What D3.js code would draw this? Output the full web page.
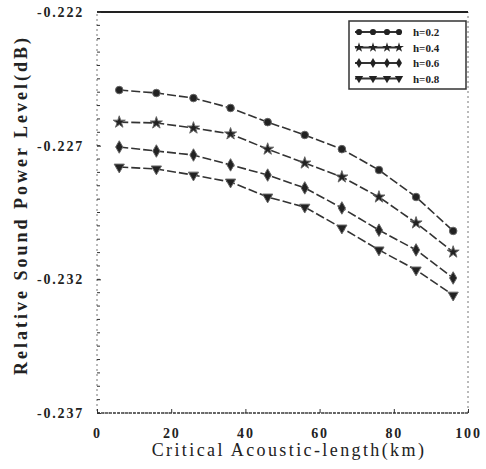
<!DOCTYPE html>
<html>
<head>
<meta charset="utf-8">
<script src="https://cdn.jsdelivr.net/npm/d3@7"></script>
<style>
  body { margin: 0; background: #fff; }
  svg { display: block; }
</style>
</head>
<body>
<div id="chart"></div>
<script>
// data
let xValues = [6, 16, 26, 36, 46, 56, 66, 76, 86, 96];
let series1 = [-0.22492, -0.22503, -0.22522, -0.22559, -0.22612, -0.22660, -0.22713, -0.22791, -0.22892, -0.23019];
let series2 = [-0.22612, -0.22615, -0.22634, -0.22656, -0.22713, -0.22765, -0.22817, -0.22892, -0.22989, -0.23098];
let series3 = [-0.22705, -0.22720, -0.22735, -0.22772, -0.22810, -0.22858, -0.22933, -0.23016, -0.23090, -0.23195];
let series4 = [-0.22780, -0.22787, -0.22810, -0.22836, -0.22892, -0.22930, -0.23008, -0.23090, -0.23165, -0.23259];
let seriesNames = ['h=0.2', 'h=0.4', 'h=0.6', 'h=0.8'];
let xTicks = [0, 20, 40, 60, 80, 100];
let yTicks = [-0.222, -0.227, -0.232, -0.237];
let yTickLabels = ['-0.222', '-0.227', '-0.232', '-0.237'];

let width = 486,
    height = 469,
    margin = {top: 12, right: 18, bottom: 56, left: 97};

let svg = d3.select('#chart')
  .append('svg')
    .attr('xmlns', 'http://www.w3.org/2000/svg')
    .attr('width', width)
    .attr('height', height)
    .style('font-family', '"Liberation Serif", "DejaVu Serif", serif');

let x = d3.scaleLinear()
  .domain([0, 100])
  .range([margin.left, width - margin.right]);

let y = d3.scaleLinear()
  .domain([-0.237, -0.222])
  .range([height - margin.bottom, margin.top]);

// frame
svg.append('rect')
  .attr('x', x(0))
  .attr('y', y(-0.222))
  .attr('width', x(100) - x(0))
  .attr('height', y(-0.237) - y(-0.222))
  .attr('fill', 'none')
  .attr('stroke', '#777')
  .attr('stroke-width', 1)
  .attr('stroke-dasharray', '2,3');

// top and bottom edges are darker in the scan
svg.append('line')
  .attr('x1', x(0)).attr('x2', x(100))
  .attr('y1', y(-0.222)).attr('y2', y(-0.222))
  .attr('stroke', '#222').attr('stroke-width', 2);
svg.append('line')
  .attr('x1', x(0)).attr('x2', x(100))
  .attr('y1', y(-0.237)).attr('y2', y(-0.237))
  .attr('stroke', '#444').attr('stroke-width', 1.5)
  .attr('stroke-dasharray', '3,1');

// axes
let yAxis = d3.axisLeft(y)
  .tickValues(yTicks)
  .tickSize(-4)
  .tickPadding(13)
  .tickFormat(function(d, i) { return yTickLabels[i]; });

let yAxisG = svg.append('g')
  .attr('transform', 'translate(' + x(0) + ',0)')
  .call(yAxis);

// minor ticks on the left axis
let minor = d3.range(0, 31).map(function(i) { return -0.237 + i * 0.0005; });
svg.append('g')
  .selectAll('line')
  .data(minor)
  .enter().append('line')
    .attr('x1', x(0)).attr('x2', x(0) + 3)
    .attr('y1', function(d) { return y(d); })
    .attr('y2', function(d) { return y(d); })
    .attr('stroke', '#333');

let xAxis = d3.axisBottom(x)
  .tickValues(xTicks)
  .tickSize(-4)
  .tickPadding(15);

let xAxisG = svg.append('g')
  .attr('transform', 'translate(0,' + y(-0.237) + ')')
  .call(xAxis);

[yAxisG, xAxisG].forEach(function(g) {
  g.select('.domain').remove();
  g.selectAll('.tick line').attr('stroke', '#333');
  g.selectAll('text')
    .style('font-family', '"Liberation Serif", "DejaVu Serif", serif')
    .style('font-size', '14px')
    .style('font-weight', 'bold')
    .style('letter-spacing', '1.8px')
    .attr('fill', '#222');
});

// axis titles
svg.append('text')
  .attr('x', 289)
  .attr('y', 456)
  .attr('text-anchor', 'middle')
  .style('font-size', '18px')
  .style('letter-spacing', '2.4px')
  .attr('fill', '#222')
  .text('Critical Acoustic-length(km)');

svg.append('text')
  .attr('transform', 'translate(' + 27 + ',' + 205 + ') rotate(-90)')
  .attr('text-anchor', 'middle')
  .style('font-size', '18px')
  .style('font-weight', 'bold')
  .style('letter-spacing', '3px')
  .attr('fill', '#222')
  .text('Relative Sound Power Level(dB)');

// series lines
let allSeries = [series1, series2, series3, series4];
let symbols = [d3.symbolCircle, d3.symbolStar, d3.symbolDiamond, d3.symbolTriangle];
let line = d3.line()
  .x(function(d, i) { return x(xValues[i]); })
  .y(function(d) { return y(d); });

allSeries.forEach(function(s, k) {
  svg.append('path')
    .datum(s)
    .attr('d', line)
    .attr('fill', 'none')
    .attr('stroke', '#333')
    .attr('stroke-width', 1.6)
    .attr('stroke-dasharray', '9,3');

  svg.append('g')
    .selectAll('path')
    .data(s)
    .enter().append('path')
      .attr('d', d3.symbol().type(symbols[k]).size(45))
      .attr('transform', function(d, i) {
        let rot = k === 3 ? ' rotate(180)' : '';
        return 'translate(' + x(xValues[i]) + ',' + y(d) + ')' + rot;
      })
      .attr('fill', '#222')
      .attr('stroke', '#666')
      .attr('stroke-width', 1);
});

// legend
let legend = svg.append('g')
  .attr('transform', 'translate(349,21)');

legend.append('rect')
  .attr('width', 117)
  .attr('height', 68)
  .attr('fill', '#fff')
  .attr('stroke', '#333')
  .attr('stroke-width', 1.5);

seriesNames.forEach(function(name, k) {
  let ly = 11 + k * 15.5;
  legend.append('line')
    .attr('x1', 6).attr('x2', 52)
    .attr('y1', ly).attr('y2', ly)
    .attr('stroke', '#333')
    .attr('stroke-width', 1.8);
  [10, 24, 38, 50].forEach(function(lx) {
    legend.append('path')
      .attr('d', d3.symbol().type(symbols[k]).size(30))
      .attr('transform', 'translate(' + lx + ',' + ly + ')' + (k === 3 ? ' rotate(180)' : ''))
      .attr('fill', '#222');
  });
  legend.append('text')
    .attr('x', 64)
    .attr('y', ly + 4)
    .style('font-size', '11px')
    .style('font-weight', 'bold')
    .attr('fill', '#222')
    .text(name);
});
</script>
</body>
</html>
